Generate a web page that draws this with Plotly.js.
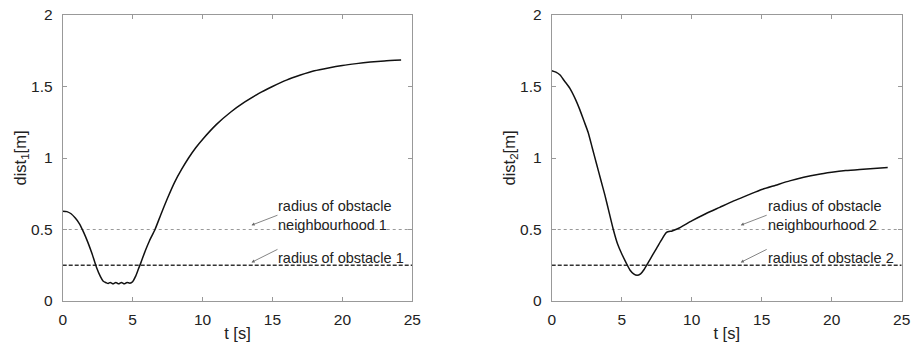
<!DOCTYPE html>
<html>
<head>
<meta charset="utf-8">
<script src="https://cdn.plot.ly/plotly-3.0.1.min.js"></script>
<style>html,body{margin:0;padding:0;background:#fff;}#chart{width:912px;height:342px;}</style>
</head>
<body>
<div id="chart"></div>
<script>
// Left panel: distance to obstacle 1
const t1 = [0, 0.3, 0.6, 0.9, 1.2, 1.5, 1.8, 2.1, 2.4, 2.7, 2.9, 3.1, 3.25, 3.4, 3.6, 3.8, 4.0, 4.2, 4.4, 4.6, 4.8, 5.0, 5.2, 5.4, 5.6, 5.9, 6.2, 6.6, 7.0, 7.5, 8.0, 8.5, 9.0, 9.5, 10, 11, 12, 13, 14, 15, 16, 17, 18, 19, 20, 21, 22, 23, 24.2];
const dist1 = [0.628, 0.625, 0.61, 0.58, 0.54, 0.48, 0.41, 0.33, 0.24, 0.17, 0.138, 0.128, 0.122, 0.13, 0.12, 0.13, 0.12, 0.13, 0.12, 0.13, 0.125, 0.135, 0.17, 0.22, 0.27, 0.35, 0.42, 0.5, 0.6, 0.72, 0.83, 0.92, 1.0, 1.07, 1.13, 1.235, 1.32, 1.39, 1.45, 1.5, 1.545, 1.58, 1.61, 1.63, 1.647, 1.66, 1.671, 1.679, 1.685];
// Right panel: distance to obstacle 2
const t2 = [0, 0.3, 0.6, 0.9, 1.3, 1.7, 2.0, 2.3, 2.6, 2.9, 3.2, 3.5, 3.8, 4.1, 4.4, 4.7, 5.0, 5.3, 5.6, 5.85, 6.1, 6.35, 6.6, 6.9, 7.2, 7.5, 7.8, 8.2, 8.6, 9.0, 10, 11, 12, 13, 14, 15, 16, 17, 18, 19, 20, 21, 22, 23, 24];
const dist2 = [1.61, 1.6, 1.58, 1.54, 1.487, 1.41, 1.34, 1.26, 1.18, 1.07, 0.96, 0.85, 0.74, 0.62, 0.5, 0.4, 0.33, 0.27, 0.215, 0.19, 0.18, 0.19, 0.22, 0.27, 0.32, 0.37, 0.42, 0.48, 0.49, 0.505, 0.56, 0.61, 0.655, 0.7, 0.74, 0.78, 0.81, 0.84, 0.865, 0.885, 0.9, 0.912, 0.92, 0.927, 0.933];
// Reference radii
const tSpan = [0, 25];
const neighbourhoodRadius = 0.5;
const obstacleRadius = 0.25;
const xTicks = [0, 5, 10, 15, 20, 25];
const yTicks = [0, 0.5, 1, 1.5, 2];
const xTitle = 't [s]';
const yTitle1 = 'dist<sub>1</sub>[m]';
const yTitle2 = 'dist<sub>2</sub>[m]';
const labels1 = ["radius of obstacle<br>neighbourhood 1", "radius of obstacle 1"];
const labels2 = ["radius of obstacle<br>neighbourhood 2", "radius of obstacle 2"];

const FONT = "Liberation Sans, Arial, sans-serif";
const curve = {color: '#111', width: 1.5, shape: 'spline', smoothing: 0.6};
function hline(val, xa, ya, style) {
  return {x: tSpan, y: [val, val], xaxis: xa, yaxis: ya, mode: 'lines', line: style, hoverinfo: 'skip'};
}
const dotStyle = {color: '#999', width: 1.2, dash: 'dot'};
const dashStyle = {color: '#333', width: 1.3, dash: '4px,2px'};

const data = [
  hline(neighbourhoodRadius, 'x', 'y', dotStyle),
  hline(obstacleRadius, 'x', 'y', dashStyle),
  {x: t1, y: dist1, xaxis: 'x', yaxis: 'y', mode: 'lines', line: curve},
  hline(neighbourhoodRadius, 'x2', 'y2', dotStyle),
  hline(obstacleRadius, 'x2', 'y2', dashStyle),
  {x: t2, y: dist2, xaxis: 'x2', yaxis: 'y2', mode: 'lines', line: curve}
];

const titleFont = {family: FONT, size: 16.5, color: '#222'};
function xax(dom) {
  return {domain: dom, range: [0, 25], tickvals: xTicks, ticks: 'inside', ticklen: 4, tickcolor: '#999',
    showline: true, linecolor: '#999', linewidth: 1, mirror: 'ticks', showgrid: false, zeroline: false,
    tickfont: {family: FONT, size: 15.5, color: '#222'}, ticklabelstandoff: 4,
    title: {text: xTitle, font: titleFont, standoff: 0}};
}
function yax(anchor, title) {
  return {domain: [0, 1], anchor: anchor, range: [0, 2], tickvals: yTicks, ticks: 'inside', ticklen: 4, tickcolor: '#999',
    showline: true, linecolor: '#999', linewidth: 1, mirror: 'ticks', showgrid: false, zeroline: false,
    tickfont: {family: FONT, size: 15.5, color: '#222'}, ticklabelstandoff: 6,
    title: {text: title, font: titleFont, standoff: 0}};
}

function panelAnn(xr, yr, labels) {
  const tf = {family: FONT, size: 14.5, color: '#222'};
  return [
    {xref: xr, yref: yr, x: 13.5, y: 0.53, text: labels[0], showarrow: true, ax: 26, ay: -10,
     xanchor: 'left', yanchor: 'middle', align: 'left', font: tf,
     arrowhead: 2, arrowsize: 0.8, arrowwidth: 0.8, arrowcolor: '#666', standoff: 0, borderpad: 0},
    {xref: xr, yref: yr, x: 13.5, y: 0.27, text: labels[1], showarrow: true, ax: 26, ay: -13,
     xanchor: 'left', yanchor: 'top', align: 'left', font: tf,
     arrowhead: 2, arrowsize: 0.8, arrowwidth: 0.8, arrowcolor: '#666', standoff: 0, borderpad: 0}
  ];
}

const layout = {
  width: 912, height: 342,
  margin: {l: 0, r: 0, t: 15, b: 41},
  paper_bgcolor: '#fff', plot_bgcolor: '#fff',
  showlegend: false,
  xaxis: xax([62.7/912, 412.3/912]),
  yaxis: yax('x', yTitle1),
  xaxis2: xax([551.7/912, 901.7/912]),
  yaxis2: yax('x2', yTitle2),
  annotations: [].concat(panelAnn('x', 'y', labels1), panelAnn('x2', 'y2', labels2))
};

Plotly.newPlot('chart', data, layout, {staticPlot: true});
</script>
</body>
</html>
